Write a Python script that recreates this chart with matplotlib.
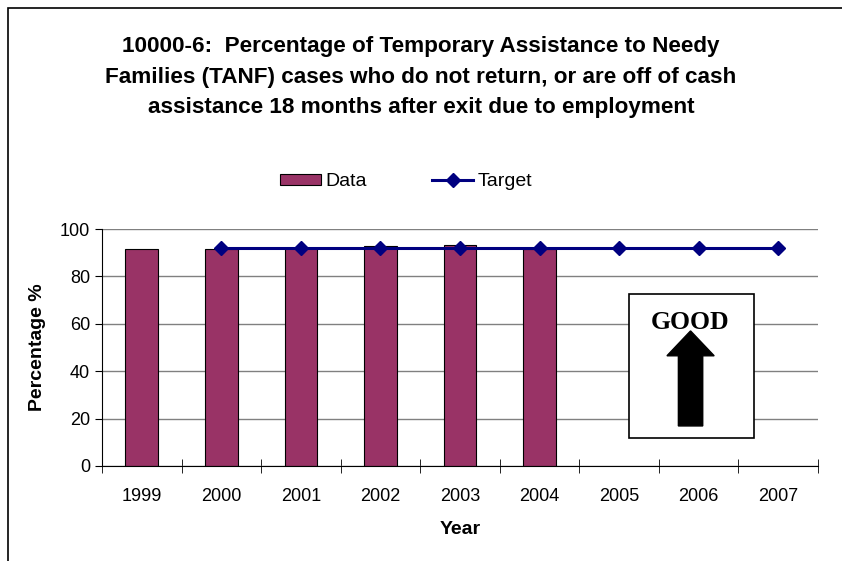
import numpy as np
import matplotlib
matplotlib.use("Agg")
from matplotlib import pyplot as plt
from matplotlib.patches import Rectangle, FancyArrow

# =============================================================================
# data
# =============================================================================
years = ["1999", "2000", "2001", "2002", "2003", "2004", "2005", "2006", "2007"]
data_vals = [91.4, 91.4, 91.8, 92.8, 93.4, 91.7]
target_years = ["2000", "2001", "2002", "2003", "2004", "2005", "2006", "2007"]
target_vals = [92, 92, 92, 92, 92, 92, 92, 92]

title = ("10000-6:  Percentage of Temporary Assistance to Needy\n"
         "Families (TANF) cases who do not return, or are off of cash\n"
         "assistance 18 months after exit due to employment")

plt.rcParams["font.family"] = ["Liberation Sans", "DejaVu Sans"]

fig = plt.figure(figsize=(8.42, 5.61), dpi=100)
W, H = 842, 561
ax = fig.add_axes([102 / W, 1 - 466 / H, 716 / W, 237 / H])

x = np.arange(len(years))
x_data = x[:len(data_vals)]
x_target = [years.index(y) for y in target_years]

bars = ax.bar(x_data, data_vals, width=0.41, color="#993366",
              edgecolor="black", linewidth=0.8, label="Data", zorder=2)
line, = ax.plot(x_target, target_vals, color="#000080", linewidth=2.2,
                marker="D", markersize=7, label="Target", zorder=3)

ax.set_xlim(-0.5, len(years) - 0.5)
ax.set_ylim(0, 100)
ax.set_yticks(np.arange(0, 101, 20))
ax.yaxis.grid(True, color="#808080", linewidth=1)
ax.set_axisbelow(True)
ax.set_xticks(x)
ax.set_xticklabels(years, fontsize=13)
ax.set_xticks(np.arange(-0.5, len(years), 1), minor=True)
ax.tick_params(axis="x", which="major", length=0, pad=16)
ax.tick_params(axis="x", which="minor", length=10, direction="inout")
ax.tick_params(axis="y", labelsize=13, length=5, direction="out")
for s in ["top", "right"]:
    ax.spines[s].set_visible(False)
ax.spines["left"].set_color("black")
ax.spines["bottom"].set_color("black")

ax.set_xlabel("Year", fontsize=14, fontweight="bold", labelpad=11)
ax.set_ylabel("Percentage %", fontsize=14, fontweight="bold", labelpad=10)

fig.text(0.5, 1 - 77 / H, title, ha="center", va="center", fontsize=16.2,
         fontweight="bold", linespacing=1.62)

fig.legend(handles=[bars, line], labels=["Data", "Target"], loc="center",
           bbox_to_anchor=(406 / W, 1 - 182 / H), ncol=2, frameon=False,
           fontsize=14, columnspacing=3.4, handlelength=2.1,
           handleheight=0.5, handletextpad=0.2)

# GOOD box with arrow
ax.add_patch(Rectangle((0.736, 0.118), 0.175, 0.608, transform=ax.transAxes,
                       facecolor="white", edgecolor="black", linewidth=1.2,
                       zorder=4))
ax.text(0.822, 0.605, "GOOD", transform=ax.transAxes, ha="center",
        va="center", fontsize=18.5, fontweight="bold",
        family=["Liberation Serif", "DejaVu Serif"], zorder=5)
ax.add_patch(FancyArrow(0.822, 0.169, 0, 0.401, width=0.034,
                        head_width=0.066, head_length=0.105,
                        length_includes_head=True, transform=ax.transAxes,
                        color="black", zorder=5))

# outer frame
fig.patches.append(Rectangle((8 / W, -0.1), 1.2, 1 - 8 / H + 0.1,
                             transform=fig.transFigure, fill=False,
                             edgecolor="black", linewidth=1.2))

fig.savefig("out.png", dpi=100)
